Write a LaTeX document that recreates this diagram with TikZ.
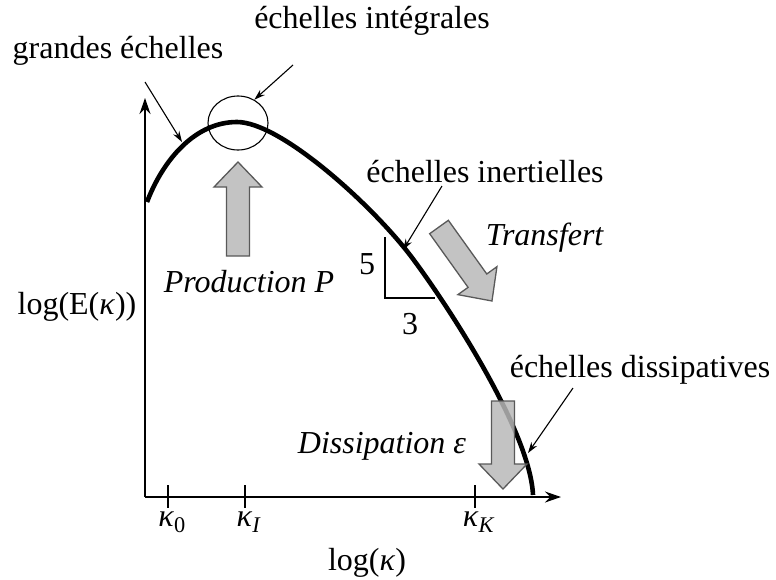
\documentclass[tikz,border=0pt]{standalone}
\usepackage{fontspec}
\setmainfont{Liberation Serif}
\usetikzlibrary{arrows.meta, shapes.geometric}
\definecolor{fatfill}{gray}{0.72}
\definecolor{fatedge}{gray}{0.35}
\newcommand{\kap}{\textit{κ}}

\tikzset{
  lbl/.style={anchor=base, inner sep=0pt},
  axis/.style={line width=1.3pt, -{Stealth[length=16pt, width=11pt]}},
  callout/.style={line width=1.1pt, -{Stealth[length=11pt, width=7pt]}},
  fat/.style={fill=fatfill, fill opacity=0.85, draw=fatedge, line width=1.3pt},
}
% big grey arrow, drawn along +x then rotated: {tail}{angle}{length}
\newcommand{\fatarrow}[3]{%
  \begin{scope}[shift={#1}, rotate=#2]
    \draw[fat] (0,-11.5) -- (#3-25,-11.5) -- (#3-25,-24) -- (#3,0)
      -- (#3-25,24) -- (#3-25,11.5) -- (0,11.5) -- cycle;
  \end{scope}}

\begin{document}
\begin{tikzpicture}[x=1pt, y=-1pt, font=\fontsize{32}{38}\selectfont]
\useasboundingbox (0,0) rectangle (776,579);
% axes
\coordinate (O) at (145,497);
\coordinate (xend) at (561,497);
\coordinate (yend) at (145,98);
\draw[axis] (O) -- (xend);
\draw[axis] (O) -- (yend);
% ticks
\foreach \x/\lab in {168/{\kap\textsubscript{0}}, 245/{\kap\textsubscript{\textit{I}}}, 475/{\kap\textsubscript{\textit{K}}}} {
  \draw[line width=1.1pt] (\x,485) -- (\x,508);
  \node[lbl] at (\x+4,526) {\lab};
}
\node[lbl] (xlab) at (367,570) {log(\kap)};
\node[lbl] (ylab) at (77,314) {log(E(\kap))};
% energy spectrum
\draw[line width=4.6pt] (147,202) .. controls (163,160) and (195,122) .. (237,122)
  .. controls (280,122) and (370,203) .. (410,255)
  .. controls (445,301) and (530,430) .. (533,495);
% integral scales
\node[ellipse, draw, line width=1.1pt, minimum width=60pt, minimum height=54pt] (integ) at (238,123) {};
% slope -5/3
\draw[line width=1.2pt] (385,237) |- (435,298);
\node[lbl] (five) at (367,274) {5};
\node[lbl] (three) at (410,334) {3};
% grey arrows
\fatarrow{(238,256)}{90}{94}
\fatarrow{(439,227)}{-54.4}{91}
\fatarrow{(503,401)}{-90}{88}
\node[lbl] (prod) at (249,292) {\textit{Production P}};
\node[lbl] (transf) at (545,245) {\textit{Transfert}};
\node[lbl] (dissip) at (382,453) {\textit{Dissipation ε}};
% scale names and pointers
\node[lbl] (grandes) at (118,58) {grandes échelles};
\node[lbl] (integlbl) at (372,28) {échelles intégrales};
\node[lbl] (inert) at (485,182) {échelles inertielles};
\node[lbl] (dissl) at (640,377) {échelles dissipatives};
\coordinate (g0) at (145,82);   \coordinate (g1) at (182,142);
\coordinate (i0) at (293,65);
\coordinate (n0) at (442,186);  \coordinate (n1) at (403,250);
\coordinate (d0) at (573,388);  \coordinate (d1) at (528,453);
\draw[callout] (g0) -- (g1);
\draw[callout] (i0) -- (integ.55);
\draw[callout] (n0) -- (n1);
\draw[callout] (d0) -- (d1);
\end{tikzpicture}
\end{document}
